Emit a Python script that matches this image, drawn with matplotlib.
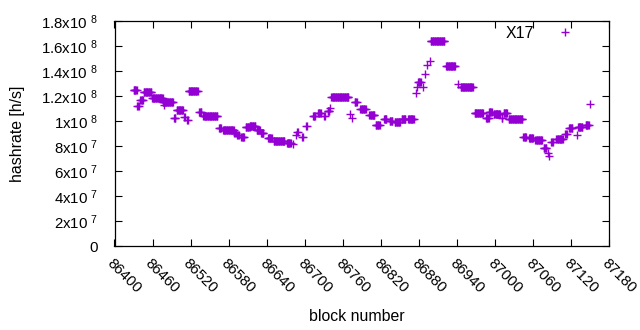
import numpy as np
import matplotlib
matplotlib.use('Agg')
import matplotlib.pyplot as plt

plt.rcParams['font.family'] = ['Liberation Sans', 'DejaVu Sans']
plt.rcParams['mathtext.fontset'] = 'custom'
plt.rcParams['mathtext.rm'] = 'Liberation Sans'
plt.rcParams['mathtext.it'] = 'Liberation Sans'

# runs of blocks with the same hashrate: first block, last block, value
run_first = [86430, 86436, 86441, 86446, 86459, 86476, 86478, 86494, 86498, 86510,
             86515, 86517, 86534, 86540, 86565, 86571, 86589, 86594, 86600, 86607,
             86613, 86624, 86631, 86642, 86651, 86672, 86681, 86686, 86688, 86696,
             86702, 86713, 86721, 86731, 86736, 86740, 86742, 86772, 86774, 86779,
             86788, 86802, 86812, 86825, 86834, 86842, 86853, 86863, 86875, 86877,
             86879, 86887, 86890, 86893, 86897, 86899, 86923, 86942, 86946, 86968,
             86986, 86991, 86998, 87004, 87011, 87014, 87022, 87045, 87054, 87064,
             87077, 87083, 87086, 87089, 87097, 87111, 87117, 87129, 87131, 87143,
             87150]
run_last = [86435, 86438, 86445, 86458, 86476, 86492, 86478, 86496, 86508, 86511,
            86516, 86531, 86537, 86562, 86568, 86588, 86591, 86596, 86604, 86613,
            86622, 86629, 86635, 86648, 86668, 86678, 86681, 86686, 86689, 86697,
            86703, 86716, 86725, 86732, 86739, 86740, 86769, 86772, 86774, 86782,
            86796, 86810, 86818, 86829, 86838, 86850, 86859, 86872, 86875, 86877,
            86883, 86887, 86890, 86893, 86897, 86920, 86937, 86942, 86965, 86981,
            86990, 86995, 87004, 87008, 87012, 87019, 87043, 87049, 87060, 87074,
            87081, 87083, 87086, 87091, 87107, 87113, 87122, 87129, 87138, 87148,
            87150]
run_value = [1.244e8, 1.116e8, 1.166e8, 1.228e8, 1.18e8, 1.148e8, 1.13e8, 1.025e8, 1.084e8, 1.033e8,
             1.007e8, 1.236e8, 1.068e8, 1.041e8, 0.94e8, 0.924e8, 0.90e8, 0.887e8, 0.873e8, 0.948e8,
             0.96e8, 0.927e8, 0.90e8, 0.86e8, 0.836e8, 0.825e8, 0.815e8, 0.89e8, 0.908e8, 0.873e8,
             0.961e8, 1.04e8, 1.063e8, 1.036e8, 1.078e8, 1.10e8, 1.193e8, 1.052e8, 1.02e8, 1.148e8,
             1.097e8, 1.045e8, 0.967e8, 1.015e8, 0.999e8, 0.993e8, 1.012e8, 1.012e8, 1.225e8, 1.268e8,
             1.312e8, 1.273e8, 1.372e8, 1.446e8, 1.478e8, 1.635e8, 1.435e8, 1.292e8, 1.268e8, 1.06e8,
             1.02e8, 1.073e8, 1.052e8, 1.052e8, 1.02e8, 1.063e8, 1.012e8, 0.868e8, 0.86e8, 0.847e8,
             0.78e8, 0.741e8, 0.719e8, 0.829e8, 0.855e8, 0.895e8, 0.94e8, 0.887e8, 0.948e8, 0.964e8,
             1.132e8]

x_ticks = list(range(86400, 87181, 60))
y_ticks = [0, 2e7, 4e7, 6e7, 8e7, 1e8, 1.2e8, 1.4e8, 1.6e8, 1.8e8]
y_labels = ['0', '2x10 $^{7}$', '4x10 $^{7}$', '6x10 $^{7}$', '8x10 $^{7}$',
            '1x10 $^{8}$', '1.2x10 $^{8}$', '1.4x10 $^{8}$', '1.6x10 $^{8}$', '1.8x10 $^{8}$']

blocks = []
rates = []
for a, b, v in zip(run_first, run_last, run_value):
    for blk in range(a, b + 1):
        blocks.append(blk)
        rates.append(v)

fig = plt.figure(figsize=(6.4, 3.3), dpi=100)
ax = fig.add_axes([114.5 / 640, 1 - 246 / 330, 494.5 / 640, 225.3 / 330])

ax.plot(blocks, rates, linestyle='none', marker='+', markersize=6.3,
        markeredgewidth=1.0, color='#9400d3', label='X17')

ax.set_xlim(86400, 87180)
ax.set_ylim(0, 1.8e8)
ax.set_xticks(x_ticks)
ax.set_xticklabels([str(t) for t in x_ticks], rotation=-45, ha='left', va='top',
                   rotation_mode='anchor', fontsize=10.8)
ax.set_yticks(y_ticks)
ax.set_yticklabels(y_labels, fontsize=10.8)
ax.tick_params(direction='in', length=5, width=0.8, top=True, right=True)
ax.tick_params(axis='y', pad=12)
ax.tick_params(axis='x', pad=7)
for s in ax.spines.values():
    s.set_linewidth(0.9)

ax.set_xlabel('block number', fontsize=11.4)
ax.set_ylabel('hashrate [h/s]', fontsize=11.4)
ax.xaxis.set_label_coords(0.49, -0.28)
ax.yaxis.set_label_coords(-0.18, 0.5)

ax.legend(loc='upper right', frameon=False, markerfirst=False, fontsize=11.4,
          handlelength=3, handletextpad=0.5, borderpad=0, borderaxespad=0,
          bbox_to_anchor=(0.9596, 0.978))

fig.savefig('out.png', dpi=100)
